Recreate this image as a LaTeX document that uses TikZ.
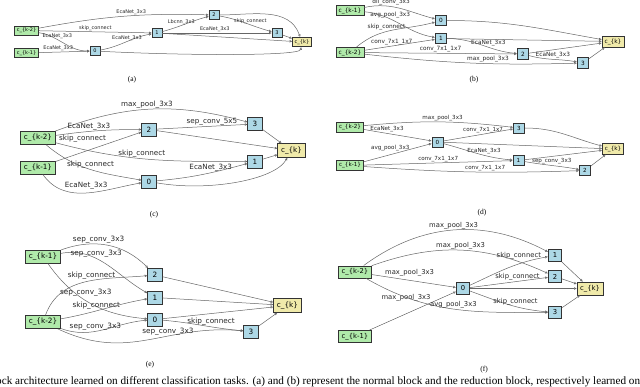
\documentclass[tikz,border=0pt]{standalone}
\usepackage{fontspec}
\setsansfont{DejaVu Sans}
\newfontfamily\capfont{Liberation Serif}
\usetikzlibrary{arrows.meta,quotes}

\definecolor{inputgreen}{HTML}{B0EAAA}
\definecolor{nodeblue}{HTML}{ADD8E6}
\definecolor{outyellow}{HTML}{F0EAAA}

\begin{document}
\begin{tikzpicture}[x=1pt,y=1pt]
\tikzset{
  innode/.style={rectangle,draw=black!80,fill=inputgreen,line width=0.7pt,inner sep=0pt,minimum width=4.8em,minimum height=1.8em},
  opnode/.style={rectangle,draw=black!80,fill=nodeblue,line width=0.7pt,inner sep=0pt,minimum width=2em,minimum height=1.8em},
  outnode/.style={rectangle,draw=black!80,fill=outyellow,line width=0.7pt,inner sep=0pt,minimum width=3.8em,minimum height=1.9em},
  directed/.style={-{Triangle[open,length=2.6pt,width=2.4pt]},draw=black!60,line width=0.5pt},
  every edge quotes/.style={anchor=south,inner sep=1pt,text=black!85},
  panellabel/.style={font=\capfont\fontsize{7.5}{8}\selectfont},
  captext/.style={font=\capfont\fontsize{11.2}{13}\selectfont,inner sep=0pt}
}
\useasboundingbox (0,0) rectangle (640,-387);

% (a) normal block
\begin{scope}
\sffamily\fontsize{5}{6}\selectfont
\node[innode] (a_km2) at (26.5,-30.5) {c\_\{k-2\}};
\node[innode] (a_km1) at (26.5,-53) {c\_\{k-1\}};
\node[opnode] (a_0) at (95,-51) {0};
\node[opnode] (a_1) at (157,-33) {1};
\node[opnode] (a_2) at (214,-15) {2};
\node[opnode] (a_3) at (277,-33) {3};
\node[outnode] (a_k) at (302,-42) {c\_\{k\}};
\draw[directed] (a_km2) to[bend left=6, "EcaNet\_3x3" {pos=0.55}] (a_2);
\draw[directed] (a_km2) to["skip\_connect"] (a_1);
\draw[directed] (a_km2) to[out=-10, in=180, "EcaNet\_3x3" {pos=0.35}] (a_0);
\draw[directed] (a_km1) to["EcaNet\_3x3" {pos=0.38}] (a_0);
\draw[directed] (a_0) to[out=10, in=190, "EcaNet\_3x3" {pos=0.52}] (a_1);
\draw[directed] (a_1) to[out=15, in=195, "Lbcnn\_3x3" {pos=0.4}] (a_2);
\draw[directed] (a_1) to["EcaNet\_3x3" {pos=0.48}] (a_3);
\draw[directed] (a_2) to[out=-10, in=165, "skip\_connect" {pos=0.6}] (a_3);
\draw[directed] (a_1) to (a_k);
\draw[directed] (a_2) to[out=0, in=110] (a_k);
\draw[directed] (a_3) to (a_k);
\draw[directed] (a_0) to[out=-3, in=-100, in looseness=0.12] (a_k);
\node[panellabel] (a_lab) at (132,-80) {(a)};
\end{scope}

% (b) reduction block
\begin{scope}
\sffamily\fontsize{5.8}{7}\selectfont
\node[innode] (b_km1) at (350,-10.5) {c\_\{k-1\}};
\node[innode] (b_km2) at (350,-52.5) {c\_\{k-2\}};
\node[opnode] (b_0) at (441,-20.5) {0};
\node[opnode] (b_1) at (441,-38.5) {1};
\node[opnode] (b_2) at (523,-54) {2};
\node[opnode] (b_3) at (583,-63) {3};
\node[outnode] (b_k) at (613,-41.5) {c\_\{k\}};
\draw[directed] (b_km1) to[out=12, in=165, "dil\_conv\_3x3" {pos=0.37}] (b_0);
\draw[directed] (b_km1) to[out=-5, in=170, "avg\_pool\_3x3" {pos=0.35}] (b_1);
\draw[directed] (b_km2) to[out=40, in=195, "skip\_connect" {pos=0.45, xshift=-3pt}] (b_0);
\draw[directed] (b_km2) to["conv\_7x1\_1x7" {pos=0.39}] (b_1);
\draw[directed] (b_km2) to["conv\_7x1\_1x7"] (b_2);
\draw[directed] (b_km2) to[bend right=4, "max\_pool\_3x3" {pos=0.59}] (b_3);
\draw[directed] (b_1) to[out=0, in=175, "EcaNet\_3x3" {pos=0.6}] (b_2);
\draw[directed] (b_2) to[out=-15, in=170, "EcaNet\_3x3"] (b_3);
\draw[directed] (b_0) to[out=0, in=170] (b_k);
\draw[directed] (b_1) to (b_k);
\draw[directed] (b_2) to (b_k);
\draw[directed] (b_3) to (b_k);
\node[panellabel] (b_lab) at (474,-80) {(b)};
\end{scope}

% (c)
\begin{scope}
\sffamily\fontsize{7.2}{8}\selectfont
\node[innode] (c_km2) at (38,-138) {c\_\{k-2\}};
\node[innode] (c_km1) at (38,-167.5) {c\_\{k-1\}};
\node[opnode] (c_2) at (149,-129.5) {2};
\node[opnode] (c_3) at (255,-124) {3};
\node[opnode] (c_1) at (255,-161.5) {1};
\node[opnode] (c_0) at (149,-181.5) {0};
\node[outnode] (c_k) at (291.5,-150.5) {c\_\{k\}};
\draw[directed] (c_km2) to[bend left=18, "max\_pool\_3x3" {pos=0.48}] (c_3);
\draw[directed] (c_km2) to[bend left=4, "EcaNet\_3x3" {pos=0.38}] (c_2);
\draw[directed] (c_km1) to["skip\_connect" {pos=0.6, anchor=south east}] (c_2);
\draw[directed] (c_km2) to[out=-15, in=180, "skip\_connect" {pos=0.45}] (c_1);
\draw[directed] (c_km2) to[out=-40, in=170, "skip\_connect"] (c_0);
\draw[directed] (c_km1) to[out=-55, in=190, "EcaNet\_3x3" {yshift=3pt}] (c_0);
\draw[directed] (c_2) to["sep\_conv\_5x5" {pos=0.61}] (c_3);
\draw[directed] (c_0) to[out=5, in=195, "EcaNet\_3x3" {pos=0.6}] (c_1);
\draw[directed] (c_2) to (c_k);
\draw[directed] (c_3) to (c_k);
\draw[directed] (c_1) to (c_k);
\draw[directed] (c_0) to[out=-10, in=-120, in looseness=0.5] (c_k);
\node[panellabel] (c_lab) at (154,-215) {(c)};
\end{scope}

% (d)
\begin{scope}
\sffamily\fontsize{5.6}{7}\selectfont
\node[innode] (d_km2) at (350,-127) {c\_\{k-2\}};
\node[innode] (d_km1) at (350,-165.5) {c\_\{k-1\}};
\node[opnode] (d_0) at (437.5,-142) {0};
\node[opnode] (d_3) at (519,-128) {3};
\node[opnode] (d_1) at (518.5,-160.5) {1};
\node[opnode] (d_2) at (585,-170.5) {2};
\node[outnode] (d_k) at (613,-149) {c\_\{k\}};
\draw[directed] (d_km2) to[bend left=6, "max\_pool\_3x3" {pos=0.53}] (d_3);
\draw[directed] (d_km2) to[out=-10, in=170, "EcaNet\_3x3" {pos=0.33}] (d_0);
\draw[directed] (d_km1) to["avg\_pool\_3x3" {pos=0.39, yshift=3pt}] (d_0);
\draw[directed] (d_0) to["conv\_7x1\_1x7" {pos=0.57}] (d_3);
\draw[directed] (d_0) to[out=-15, in=175, "EcaNet\_3x3" {pos=0.6}] (d_1);
\draw[directed] (d_km1) to["conv\_7x1\_1x7"] (d_1);
\draw[directed] (d_km1) to[bend right=3, "conv\_7x1\_1x7" {pos=0.57}] (d_2);
\draw[directed] (d_1) to[out=-10, in=170, "sep\_conv\_3x3"] (d_2);
\draw[directed] (d_3) to[out=0, in=165] (d_k);
\draw[directed] (d_0) to (d_k);
\draw[directed] (d_1) to (d_k);
\draw[directed] (d_2) to (d_k);
\node[panellabel] (d_lab) at (482,-213) {(d)};
\end{scope}

% (e)
\begin{scope}
\sffamily\fontsize{7.3}{8}\selectfont
\node[innode] (e_km1) at (43,-256.5) {c\_\{k-1\}};
\node[innode] (e_km2) at (43,-322) {c\_\{k-2\}};
\node[opnode] (e_2) at (155,-275) {2};
\node[opnode] (e_1) at (155,-297.5) {1};
\node[opnode] (e_0) at (155,-319.5) {0};
\node[opnode] (e_3) at (251,-331.5) {3};
\node[outnode] (e_k) at (287.5,-305.5) {c\_\{k\}};
\draw[directed] (e_km1) to[out=20, in=135, "sep\_conv\_3x3" {pos=0.4}] (e_2);
\draw[directed] (e_km1) to[out=10, in=150, "sep\_conv\_3x3" {pos=0.38}] (e_1);
\draw[directed] (e_km2) to[out=70, in=185, "skip\_connect" {pos=0.55}] (e_2);
\draw[directed] (e_km1) to[out=-55, in=175, "sep\_conv\_3x3" {pos=0.45, yshift=3pt}] (e_0);
\draw[directed] (e_km2) to[out=10, in=190, "skip\_connect" {pos=0.4}] (e_1);
\draw[directed] (e_km2) to[out=-20, in=185, "sep\_conv\_3x3" {pos=0.4}] (e_0);
\draw[directed] (e_km2) to[out=-25, in=175, looseness=1.1, "sep\_conv\_3x3" {pos=0.62}] (e_3);
\draw[directed] (e_0) to[out=-5, in=175, "skip\_connect" {pos=0.61}] (e_3);
\draw[directed] (e_2) to (e_k);
\draw[directed] (e_1) to (e_k);
\draw[directed] (e_0) to (e_k);
\draw[directed] (e_3) to (e_k);
\node[panellabel] (e_lab) at (150,-365) {(e)};
\end{scope}

% (f)
\begin{scope}
\sffamily\fontsize{6.8}{8}\selectfont
\node[innode] (f_km2) at (355,-272) {c\_\{k-2\}};
\node[innode] (f_km1) at (355,-336.5) {c\_\{k-1\}};
\node[opnode] (f_0) at (463,-288.5) {0};
\node[opnode] (f_1) at (555,-255.5) {1};
\node[opnode] (f_2) at (555,-276.5) {2};
\node[opnode] (f_3) at (555,-312.5) {3};
\node[outnode] (f_k) at (590,-288.5) {c\_\{k\}};
\draw[directed] (f_km2) to[bend left=32, "max\_pool\_3x3"] (f_1);
\draw[directed] (f_km2) to[bend left=22, "max\_pool\_3x3"] (f_2);
\draw[directed] (f_km2) to["max\_pool\_3x3" {pos=0.45, yshift=3pt}] (f_0);
\draw[directed] (f_km1) to["max\_pool\_3x3" {pos=0.72, anchor=south east}] (f_0);
\draw[directed] (f_km2) to[out=-30, in=180, "avg\_pool\_3x3"] (f_3);
\draw[directed] (f_0) to[out=25, in=190, "skip\_connect" {pos=0.65, yshift=4pt}] (f_1);
\draw[directed] (f_0) to["skip\_connect" {pos=0.61}] (f_2);
\draw[directed] (f_0) to[out=-20, in=175, "skip\_connect" {pos=0.6}] (f_3);
\draw[directed] (f_1) to (f_k);
\draw[directed] (f_2) to (f_k);
\draw[directed] (f_0) to (f_k);
\draw[directed] (f_3) to (f_k);
\node[panellabel] (f_lab) at (484,-370) {(f)};
\end{scope}

\node[captext, anchor=base west] (caption) at (-4,-384.5) {ock architecture learned on different classification tasks. (a) and (b) represent the normal block and the reduction block, respectively learned on};
\end{tikzpicture}
\end{document}
